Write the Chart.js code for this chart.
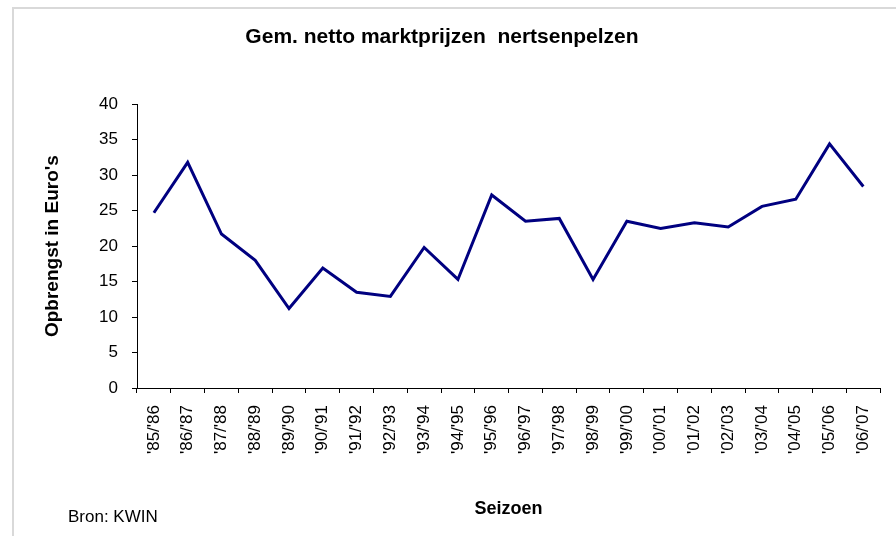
<!DOCTYPE html>
<html lang="nl">
<head>
<meta charset="utf-8">
<title>Gem. netto marktprijzen nertsenpelzen</title>
<script src="https://cdn.jsdelivr.net/npm/chart.js@4.4.1/dist/chart.umd.min.js"></script>
<style>
    html, body {
        margin: 0;
        padding: 0;
        background: #ffffff;
    }

    #chart-wrap {
        position: relative;
        width: 896px;
        height: 536px;
    }
</style>
</head>
<body>
<div id="chart-wrap">
    <canvas id="priceChart" width="896" height="536"></canvas>
</div>

<script>
/* ==========================================
   DATA
========================================== */

const seasons = [
    "'85/'86", "'86/'87", "'87/'88", "'88/'89", "'89/'90", "'90/'91",
    "'91/'92", "'92/'93", "'93/'94", "'94/'95", "'95/'96", "'96/'97",
    "'97/'98", "'98/'99", "'99/'00", "'00/'01", "'01/'02", "'02/'03",
    "'03/'04", "'04/'05", "'05/'06", "'06/'07"
];

const prices = [
    24.7, 31.8, 21.7, 18.0, 11.2, 16.9,
    13.5, 12.9, 19.8, 15.3, 27.2, 23.5,
    23.9, 15.3, 23.5, 22.5, 23.3, 22.7,
    25.6, 26.6, 34.4, 28.4
];

const yTicks = [0, 5, 10, 15, 20, 25, 30, 35, 40];

const chartTitle = "Gem. netto marktprijzen  nertsenpelzen";
const yTitle = "Opbrengst in Euro's";
const xTitle = "Seizoen";
const sourceNote = "Bron: KWIN";

const FONT = "'Liberation Sans', Arial, Helvetica, sans-serif";

/* ==========================================
   FRAME + SOURCE NOTE
========================================== */

const framePlugin = {
    id: "frame",

    beforeDraw(chart) {
        const ctx = chart.ctx;

        ctx.save();
        ctx.fillStyle = "#ffffff";
        ctx.fillRect(0, 0, chart.width, chart.height);

        // light grey border on top and left only
        ctx.fillStyle = "#d9d9d9";
        ctx.fillRect(12, 7, chart.width - 12, 2);
        ctx.fillRect(12, 7, 2, chart.height - 7);
        ctx.restore();
    },

    afterDraw(chart) {
        const ctx = chart.ctx;

        ctx.save();
        ctx.fillStyle = "#000000";
        ctx.font = "17px " + FONT;
        ctx.textAlign = "left";
        ctx.textBaseline = "alphabetic";
        ctx.fillText(sourceNote, 68, 522);
        ctx.restore();
    }
};

/* ==========================================
   LINE CHART
========================================== */

function initializePriceChart() {

    const canvas = document.getElementById("priceChart");

    if (!canvas) return;

    new Chart(canvas, {

        type: "line",

        data: {
            labels: seasons,

            datasets: [{
                label: "Opbrengst",
                data: prices,

                borderColor: "#000080",
                borderWidth: 3,
                pointRadius: 0,
                pointHoverRadius: 0,
                fill: false,
                tension: 0
            }]
        },

        options: {
            responsive: false,
            animation: false,
            devicePixelRatio: 1,

            layout: {
                padding: { left: 0, right: 12, top: 0, bottom: 0 }
            },

            plugins: {
                legend: { display: false },
                tooltip: { enabled: false },

                title: {
                    display: true,
                    text: chartTitle,
                    color: "#000000",
                    font: { family: FONT, size: 21, weight: "bold" },
                    padding: { top: 25, bottom: 54 }
                }
            },

            scales: {

                x: {
                    offset: true,

                    grid: {
                        offset: true,
                        drawOnChartArea: false,
                        drawTicks: true,
                        tickLength: 5,
                        color: "#000000"
                    },

                    border: { color: "#000000", width: 1 },

                    ticks: {
                        color: "#000000",
                        font: { family: FONT, size: 17 },
                        minRotation: 90,
                        maxRotation: 90,
                        autoSkip: false,
                        padding: 12
                    },

                    title: {
                        display: true,
                        text: xTitle,
                        color: "#000000",
                        font: { family: FONT, size: 18, weight: "bold" },
                        padding: { top: 0, bottom: 16 }
                    },

                    afterFit(scale) {
                        scale.height = 148;
                    }
                },

                y: {
                    min: yTicks[0],
                    max: yTicks[yTicks.length - 1],

                    grid: {
                        drawOnChartArea: false,
                        drawTicks: true,
                        tickLength: 5,
                        color: "#000000"
                    },

                    border: { color: "#000000", width: 1 },

                    ticks: {
                        color: "#000000",
                        font: { family: FONT, size: 17 },
                        padding: 14
                    },

                    afterBuildTicks(scale) {
                        scale.ticks = yTicks.map(v => ({ value: v }));
                    },

                    title: {
                        display: true,
                        text: yTitle,
                        color: "#000000",
                        font: { family: FONT, size: 19, weight: "bold" },
                        padding: { top: 41, bottom: 0 }
                    },

                    afterFit(scale) {
                        scale.width = 137;
                    }
                }
            }
        },

        plugins: [framePlugin]
    });

}

document.addEventListener("DOMContentLoaded", () => {
    initializePriceChart();
});
</script>
</body>
</html>
